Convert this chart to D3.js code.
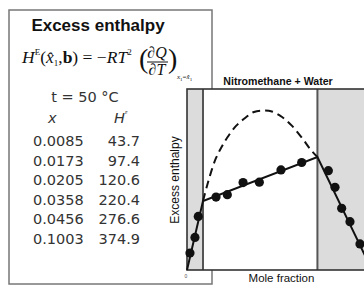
<!DOCTYPE html>
<html><head><meta charset="utf-8">
<script src="https://cdn.jsdelivr.net/npm/d3@7"></script>
<style>html,body{margin:0;padding:0;background:#fff;overflow:hidden}</style>
</head><body>
<script>
// ---- data ----
const tableX = ["0.0085","0.0173","0.0205","0.0358","0.0456","0.1003"];
const tableH = ["43.7","97.4","120.6","220.4","276.6","374.9"];
const phaseBounds = [0.0865, 0.705];
const leftX = [0.016, 0.043, 0.061];
const leftH = [94, 180, 296];
const midX = [0.157, 0.218, 0.303, 0.391, 0.508, 0.620];
const midH = [403, 416, 483, 485, 553, 594];
const rightX = [0.764, 0.800, 0.836, 0.881, 0.935];
const rightH = [549, 457, 341, 267, 144];
const solidX = [0, 0.0865, 0.705, 1];
const solidH = [0, 381, 624, 0];
const dashX = [0.0865,0.108,0.130,0.157,0.184,0.216,0.265,0.314,0.362,0.411,0.459,0.514,0.568,0.622,0.665,0.705];
const dashH = [381,464,541,619,674,729,796,840,873,881,876,845,796,729,669,624];
const xTickLabels = ["0"];

const W = 364, H = 285;
const svg = d3.select("body").append("svg").attr("width", W).attr("height", H);

// ---- left panel ----
svg.append("rect").attr("x",9).attr("y",10).attr("width",203).attr("height",274)
  .attr("fill","#fff").attr("stroke","#777").attr("stroke-width",1.5);

svg.append("text").attr("x",98).attr("y",31).attr("text-anchor","middle")
  .attr("font-family","Liberation Sans, Arial, sans-serif").attr("font-weight","bold")
  .attr("font-size",17).attr("fill","#111").text("Excess enthalpy");

// formula
const serif = "Liberation Serif, Times New Roman, serif";
const f = svg.append("text").attr("x",22).attr("y",63).attr("font-family",serif)
  .attr("font-size",17.5).attr("fill","#111");
f.append("tspan").attr("font-style","italic").text("H");
f.append("tspan").attr("font-size",9).attr("dy",-8).text("E");
f.append("tspan").attr("dy",8).text("(");
f.append("tspan").attr("font-style","italic").text("x\u0302");
f.append("tspan").attr("font-size",9).attr("dy",3).text("1");
f.append("tspan").attr("dy",-3).text(",");
f.append("tspan").attr("font-weight","bold").text("b");
f.append("tspan").text(") = \u2212");
f.append("tspan").attr("font-style","italic").text("RT");
f.append("tspan").attr("font-size",9).attr("dy",-8).text("2");

svg.append("text").attr("x",139).attr("y",68).attr("font-family",serif).attr("font-size",28)
  .attr("font-weight","300").attr("fill","#111").text("(");
svg.append("text").attr("x",168).attr("y",68).attr("font-family",serif).attr("font-size",28)
  .attr("fill","#111").text(")");
svg.append("text").attr("x",157).attr("y",58).attr("text-anchor","middle").attr("font-family",serif)
  .attr("font-size",16).attr("font-style","italic").attr("fill","#111").text("\u2202Q");
svg.append("line").attr("x1",147).attr("x2",168).attr("y1",62).attr("y2",62).attr("stroke","#111").attr("stroke-width",1);
svg.append("text").attr("x",157).attr("y",75).attr("text-anchor","middle").attr("font-family",serif)
  .attr("font-size",16).attr("font-style","italic").attr("fill","#111").text("\u2202T");
const sub = svg.append("text").attr("x",177).attr("y",79).attr("font-family",serif)
  .attr("font-size",7).attr("fill","#111");
sub.append("tspan").attr("font-style","italic").text("x");
sub.append("tspan").attr("font-size",5).attr("dy",1.5).text("1");
sub.append("tspan").attr("dy",-1.5).text("=");
sub.append("tspan").attr("font-style","italic").text("x\u0302");
sub.append("tspan").attr("font-size",5).attr("dy",1.5).text("1");

const sans = "DejaVu Sans, Verdana, sans-serif";
svg.append("text").attr("x",85).attr("y",102).attr("text-anchor","middle").attr("font-family",sans)
  .attr("font-size",14.5).attr("fill","#333").text("t = 50 \u00B0C");
svg.append("text").attr("x",48).attr("y",123).attr("font-family",sans)
  .attr("font-size",14.5).attr("font-style","italic").attr("fill","#333").text("x");
const hh = svg.append("text").attr("x",114).attr("y",123).attr("font-family",sans)
  .attr("font-size",14.5).attr("font-style","italic").attr("fill","#333");
hh.append("tspan").text("H");
hh.append("tspan").attr("font-size",4).attr("dy",-9).text("E");

const rowY = d3.scaleLinear().domain([0,5]).range([146,244]);
svg.append("g").selectAll("text.cx").data(tableX).join("text")
  .attr("x",33).attr("y",(d,i)=>rowY(i)).attr("font-family",sans).attr("font-size",14.5)
  .attr("fill","#333").text(d=>d);
svg.append("g").selectAll("text.ch").data(tableH).join("text")
  .attr("x",140).attr("y",(d,i)=>rowY(i)).attr("text-anchor","end").attr("font-family",sans)
  .attr("font-size",14.5).attr("fill","#333").text(d=>d);

// ---- plot ----
const x = d3.scaleLinear().domain([0,1]).range([187,372]);
const y = d3.scaleLinear().domain([0,1000]).range([270,89]);

svg.append("rect").attr("x",x(0)).attr("y",y(1000)).attr("width",x(1)-x(0)).attr("height",y(0)-y(1000))
  .attr("fill","#fff");
svg.append("rect").attr("x",x(0)).attr("y",y(1000)).attr("width",x(phaseBounds[0])-x(0)).attr("height",y(0)-y(1000))
  .attr("fill","#dcdcdc");
svg.append("rect").attr("x",x(phaseBounds[1])).attr("y",y(1000)).attr("width",x(1)-x(phaseBounds[1])).attr("height",y(0)-y(1000))
  .attr("fill","#dcdcdc");
svg.selectAll("line.pb").data(phaseBounds).join("line")
  .attr("x1",d=>x(d)).attr("x2",d=>x(d)).attr("y1",y(1000)).attr("y2",y(0))
  .attr("stroke","#555").attr("stroke-width",2);
svg.append("rect").attr("x",x(0)).attr("y",y(1000)).attr("width",x(1)-x(0)).attr("height",y(0)-y(1000))
  .attr("fill","none").attr("stroke","#333").attr("stroke-width",1.6);

const dashPts = dashX.map((d,i)=>[d,dashH[i]]);
svg.append("path").datum(dashPts)
  .attr("d", d3.line().x(d=>x(d[0])).y(d=>y(d[1])).curve(d3.curveCatmullRom))
  .attr("fill","none").attr("stroke","#111").attr("stroke-width",2).attr("stroke-dasharray","8,5");

const solidPts = solidX.map((d,i)=>[d,solidH[i]]);
svg.append("path").datum(solidPts)
  .attr("d", d3.line().x(d=>x(d[0])).y(d=>y(d[1])))
  .attr("fill","none").attr("stroke","#111").attr("stroke-width",2);

const pts = [].concat(
  leftX.map((d,i)=>[d,leftH[i]]),
  midX.map((d,i)=>[d,midH[i]]),
  rightX.map((d,i)=>[d,rightH[i]]));
svg.append("g").selectAll("circle").data(pts).join("circle")
  .attr("cx",d=>x(d[0])).attr("cy",d=>y(d[1])).attr("r",4.6).attr("fill","#111");

svg.selectAll("text.xt").data(xTickLabels).join("text")
  .attr("x",x(0)-1).attr("y",278).attr("text-anchor","middle").attr("font-family","Liberation Sans, Arial, sans-serif")
  .attr("font-size",5).attr("fill","#555").text(d=>d);

svg.append("text").attr("x",278).attr("y",85).attr("text-anchor","middle")
  .attr("font-family","Liberation Sans, Arial, sans-serif").attr("font-weight","bold")
  .attr("font-size",10.6).attr("fill","#111").text("Nitromethane + Water");
svg.append("text").attr("x",281.5).attr("y",282).attr("text-anchor","middle")
  .attr("font-family","Liberation Sans, Arial, sans-serif")
  .attr("font-size",11.5).attr("fill","#111").text("Mole fraction");
svg.append("text").attr("transform","translate(179,180) rotate(-90)").attr("text-anchor","middle")
  .attr("font-family","Liberation Sans, Arial, sans-serif")
  .attr("font-size",12).attr("fill","#111").text("Excess enthalpy");
</script>
</body></html>
